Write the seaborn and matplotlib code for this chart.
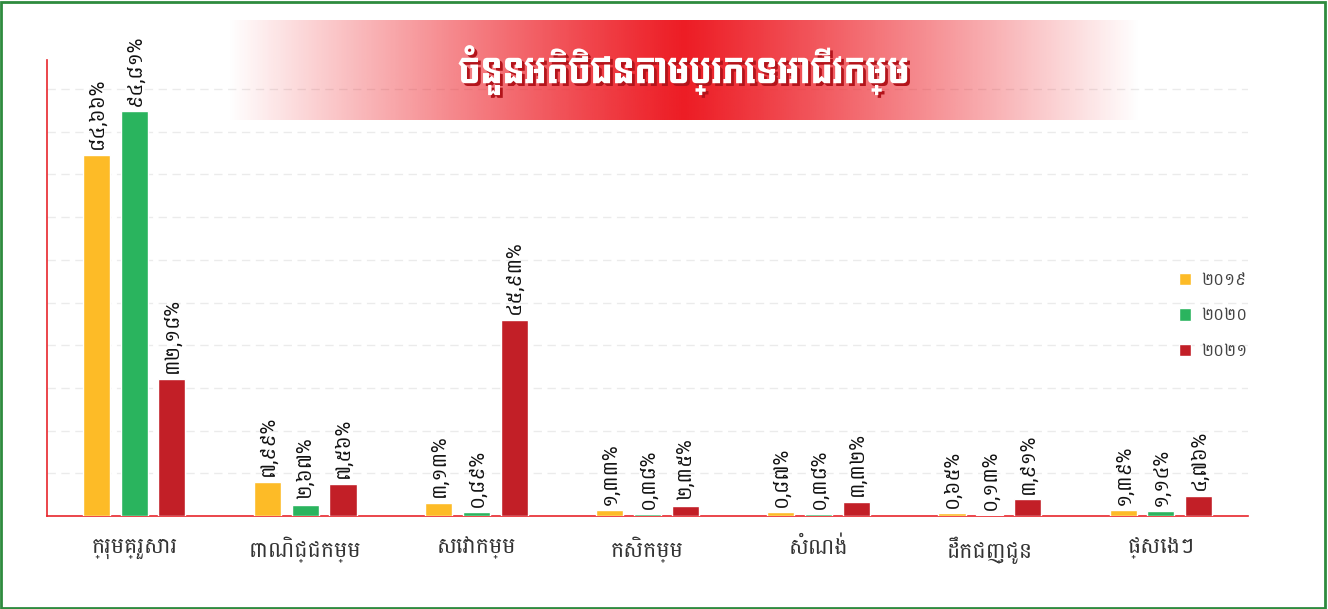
import glob
import numpy as np
import pandas as pd
import matplotlib
matplotlib.use("Agg")
import matplotlib.pyplot as plt
from matplotlib import font_manager
from matplotlib import patheffects
from matplotlib.patches import Rectangle
import seaborn as sns

# ---------------- data ----------------
categories = ["ក្រុមគ្រួសារ", "ពាណិជ្ជកម្ម", "សេវាកម្ម", "កសិកម្ម", "សំណង់", "ដឹកជញ្ជូន", "ផ្សេងៗ"]
years = ["២០១៩", "២០២០", "២០២១"]
values_2019 = [84.66, 7.99, 3.13, 1.33, 0.87, 0.65, 1.39]
values_2020 = [94.81, 2.67, 0.89, 0.38, 0.38, 0.13, 1.14]
values_2021 = [32.18, 7.56, 45.93, 2.35, 3.32, 3.91, 4.76]
title_text = "ចំនួនអតិថិជនតាមប្រភេទអាជីវកម្ម"
colors = ["#FDBB27", "#2AB45E", "#C21F27"]

# ---------------- fonts ----------------
def find_font(names):
    for n in names:
        hits = sorted(glob.glob("/usr/share/fonts/**/" + n, recursive=True))
        if hits:
            font_manager.fontManager.addfont(hits[0])
            return font_manager.FontProperties(fname=hits[0]).get_name()
    return "DejaVu Sans"

body_font = find_font(["Battambang-Regular.ttf", "Siemreap.ttf", "Khmer.ttf"])
title_font = find_font(["Koulen-Regular.ttf", "Koulen*.ttf", "Bayon-Regular.ttf", "Moul-Regular.ttf"])

sns.set_theme(style="white")
plt.rcParams["font.family"] = [body_font, "DejaVu Sans"]

khmer_digits = str.maketrans("0123456789.", "០១២៣៤៥៦៧៨៩,")
def kh(v):
    return f"{v:.2f}".translate(khmer_digits) + "%"

df = pd.DataFrame({
    "category": categories * 3,
    "year": [years[0]] * 7 + [years[1]] * 7 + [years[2]] * 7,
    "value": values_2019 + values_2020 + values_2021,
})

# ---------------- figure ----------------
fig = plt.figure(figsize=(13.28, 6.09), dpi=100)
fig.patch.set_facecolor("white")
ax = fig.add_axes([47 / 1328, 1 - 516 / 609, 1201 / 1328, 456 / 609])

sns.barplot(data=df, x="category", y="value", hue="year", order=categories,
            hue_order=years, palette=colors, width=0.66, gap=0.28,
            saturation=1, ax=ax, zorder=3)

ax.set_xlim(-0.51, 6.51)
ax.set_ylim(0, 106.8)
ax.set_yticks(np.arange(10, 101, 10))
ax.set_yticklabels([])
ax.tick_params(axis="y", length=0)
ax.tick_params(axis="x", length=0, labelsize=16, labelcolor="#333333", pad=15)
ax.grid(axis="y", color="#ebebeb", linestyle=(0, (6, 4)), linewidth=1, zorder=0)
ax.set_xlabel("")
ax.set_ylabel("")
for s in ["top", "right"]:
    ax.spines[s].set_visible(False)
for s in ["left", "bottom"]:
    ax.spines[s].set_color("#E8262C")
    ax.spines[s].set_linewidth(1.2)

# bar labels
for cont, vals in zip(ax.containers, [values_2019, values_2020, values_2021]):
    ax.bar_label(cont, labels=[kh(v) for v in vals], rotation=90, padding=4,
                 fontsize=14.5, color="#111111")

# legend
leg = ax.legend(loc="center right", bbox_to_anchor=(1.012, 0.44), frameon=False,
                fontsize=12, labelspacing=1.15, handlelength=0.75,
                handleheight=0.75, handletextpad=0.6)
for t in leg.get_texts():
    t.set_color("#444444")

# title banner with horizontal red gradient
bax = fig.add_axes([228 / 1328, 1 - 120 / 609, 912 / 1328, 100 / 609], zorder=5)
xg = np.linspace(-1, 1, 512)
alpha = np.clip(1 - np.abs(xg) ** 1.1, 0, 1)
img = np.zeros((1, 512, 4))
img[..., 0] = 0xED / 255
img[..., 1] = 0x1C / 255
img[..., 2] = 0x24 / 255
img[..., 3] = alpha
bax.imshow(img, aspect="auto", extent=[0, 1, 0, 1])
bax.set_xlim(0, 1)
bax.set_ylim(0, 1)
bax.axis("off")
bax.text(0.5, 0.5, title_text, ha="center", va="center", fontsize=25,
         color="white", family=[title_font, "DejaVu Sans"],
         path_effects=[patheffects.withSimplePatchShadow(offset=(2, -2),
                                                         shadow_rgbFace="#B3141B",
                                                         alpha=1.0)])

# green frame
fig.patches.append(Rectangle((0.001, 0.002), 0.997, 0.995, transform=fig.transFigure,
                             fill=False, edgecolor="#2E8B3E", linewidth=2))

fig.savefig("out.png", dpi=100, facecolor="white")
